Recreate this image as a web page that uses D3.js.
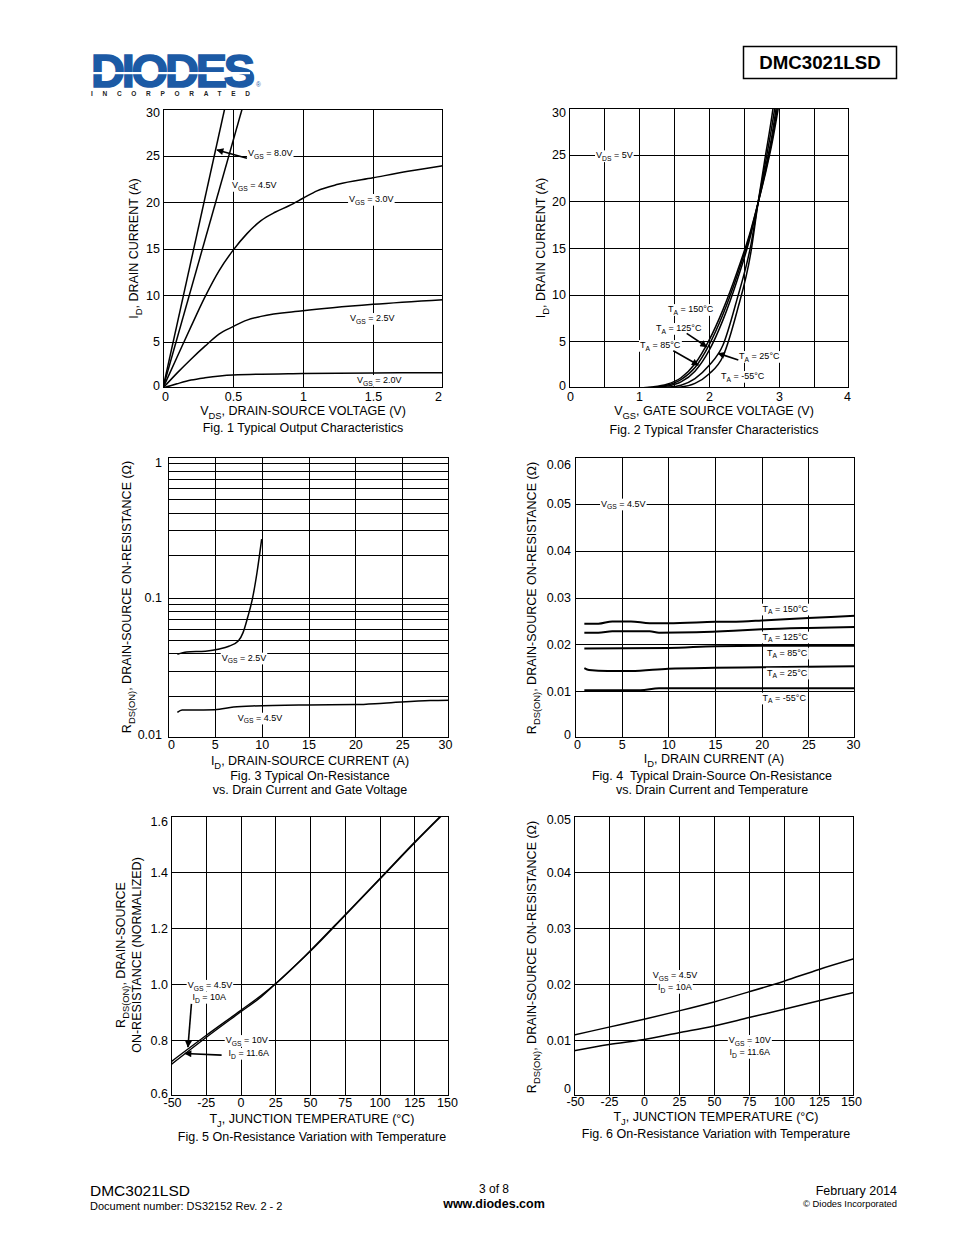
<!DOCTYPE html>
<html><head><meta charset="utf-8">
<script src="https://cdn.jsdelivr.net/npm/d3@7"></script>
<style>
body{margin:0;background:#fff}
svg{display:block}
text{font-family:"Liberation Sans",Arial,sans-serif;white-space:pre}
</style>
</head><body>
<svg id="page" width="954" height="1235"></svg>
<script>
// ================= DATA =================
// Fig.1 Typical Output Characteristics  [VDS (V), ID (A)]
const fig1XTicks = [0, 0.5, 1, 1.5, 2];
const fig1YTicks = [0, 5, 10, 15, 20, 25, 30];
const fig1_vgs80 = [[0,0],[0.44,30]];
const fig1_vgs45 = [[0,0],[0.565,30]];
const fig1_vgs30 = [[0,0],[0.1,3.3],[0.2,6.6],[0.3,9.8],[0.4,12.6],[0.5,14.8],[0.6,16.6],[0.7,18.0],[0.8,18.9],[0.9,19.6],[1.0,20.4],[1.1,21.2],[1.25,21.9],[1.5,22.6],[1.75,23.3],[2.0,23.9]];
const fig1_vgs25 = [[0,0],[0.1,1.6],[0.2,3.1],[0.3,4.5],[0.4,5.8],[0.5,6.6],[0.6,7.3],[0.7,7.7],[1.0,8.3],[1.5,9.0],[2.0,9.5]];
const fig1_vgs20 = [[0,0],[0.1,0.45],[0.2,0.85],[0.3,1.1],[0.5,1.4],[1.0,1.55],[1.5,1.62],[2.0,1.65]];

// Fig.2 Typical Transfer Characteristics [VGS (V), ID (A)]
const fig2XTicks = [0, 0.5, 1, 1.5, 2, 2.5, 3, 3.5, 4];
const fig2XLabels = [0, 1, 2, 3, 4];
const fig2YTicks = [0, 5, 10, 15, 20, 25, 30];
const fig2_t150 = [[1.0,0.03],[1.2,0.12],[1.4,0.4],[1.6,1.1],[1.8,2.6],[2.0,5.1],[2.2,8.4],[2.4,12.4],[2.6,17.0],[2.7,19.8],[2.8,22.8],[2.9,26.2],[2.99,30]];
const fig2_t125 = [[1.0,0.02],[1.2,0.08],[1.4,0.3],[1.6,0.9],[1.8,2.2],[2.0,4.6],[2.2,7.9],[2.4,12.0],[2.6,16.8],[2.7,19.8],[2.8,23.0],[2.9,26.6],[2.975,30]];
const fig2_t85  = [[1.0,0.01],[1.2,0.05],[1.4,0.2],[1.6,0.65],[1.8,1.8],[2.0,4.0],[2.2,7.3],[2.4,11.5],[2.6,16.5],[2.7,19.8],[2.8,23.3],[2.9,27.1],[2.96,30]];
const fig2_t25  = [[1.1,0],[1.2,0.02],[1.4,0.08],[1.6,0.3],[1.8,1.0],[2.0,2.4],[2.2,4.6],[2.4,9.5],[2.6,15.4],[2.7,19.8],[2.8,23.9],[2.9,28.1],[2.94,30]];
const fig2_tm55 = [[1.3,0],[1.4,0.03],[1.6,0.12],[1.8,0.5],[2.0,1.5],[2.2,3.4],[2.4,8.2],[2.6,14.6],[2.7,19.8],[2.8,24.6],[2.9,29.2],[2.915,30]];

// Fig.3 On-Resistance vs Drain Current and Gate Voltage [ID (A), RDS(ON) (ohm)]
const fig3XTicks = [0, 5, 10, 15, 20, 25, 30];
const fig3YLabels = [0.01, 0.1, 1];
const fig3_vgs25 = [[1,0.0395],[2,0.041],[4,0.0415],[5.5,0.043],[6.5,0.045],[7.5,0.049],[8,0.056],[8.5,0.072],[9,0.097],[9.5,0.15],[10,0.26]];
const fig3_vgs45 = [[1,0.0152],[1.5,0.0158],[5,0.0159],[7,0.0166],[9,0.0169],[15,0.0172],[20,0.0173],[23,0.0177],[28,0.0185],[30,0.0186]];

// Fig.4 RDS(ON) vs Drain Current and Temperature [ID (A), RDS(ON) (ohm)]
const fig4XTicks = [0, 5, 10, 15, 20, 25, 30];
const fig4YTicks = [0, 0.01, 0.02, 0.03, 0.04, 0.05, 0.06];
const fig4_t150 = [[1,0.0244],[2.5,0.0244],[4,0.0249],[6,0.0249],[8,0.0245],[10,0.0245],[15,0.0248],[18,0.0249],[20,0.0251],[25,0.0256],[30,0.0261]];
const fig4_t125 = [[1,0.0225],[2.5,0.0225],[4,0.0228],[8,0.0228],[9,0.0225],[13,0.0226],[17,0.0229],[20,0.0232],[25,0.0235],[30,0.0237]];
const fig4_t85  = [[1,0.0191],[10,0.0192],[15,0.0196],[20,0.0197],[30,0.0197]];
const fig4_t25  = [[1,0.0149],[1.5,0.0145],[3.5,0.0143],[6,0.0143],[10,0.0148],[15,0.015],[20,0.0151],[25,0.0152],[30,0.0153]];
const fig4_tm55 = [[1,0.0102],[7,0.0102],[9,0.0106],[20,0.0106],[30,0.0106]];

// Fig.5 Normalized RDS(ON) vs Junction Temperature [TJ (C), normalized]
const fig5XTicks = [-50, -25, 0, 25, 50, 75, 100, 125, 150];
const fig5YTicks = [0.6, 0.8, 1.0, 1.2, 1.4, 1.6];
const fig5_vgs45 = [[-50,0.722],[-25,0.815],[0,0.905],[15,0.96],[25,1.0],[50,1.118],[75,1.246],[100,1.375],[125,1.505],[144,1.6]];
const fig5_vgs10 = [[-50,0.712],[-25,0.808],[0,0.9],[15,0.955],[25,1.0],[50,1.116],[75,1.244],[100,1.373],[125,1.503],[144.5,1.6]];

// Fig.6 RDS(ON) vs Junction Temperature [TJ (C), ohm]
const fig6XTicks = [-50, -25, 0, 25, 50, 75, 100, 125, 150];
const fig6YTicks = [0, 0.01, 0.02, 0.03, 0.04, 0.05];
const fig6_vgs45 = [[-50,0.0109],[-25,0.0123],[0,0.0137],[25,0.0152],[50,0.0168],[75,0.0186],[100,0.0205],[125,0.0226],[150,0.0245]];
const fig6_vgs10 = [[-50,0.0081],[-25,0.0092],[0,0.0101],[25,0.0113],[50,0.0125],[75,0.014],[100,0.0155],[125,0.017],[150,0.0185]];

// ================= DRAWING =================
const svg = d3.select("#page");
const FONT = '"Liberation Sans", Arial, sans-serif';

svg.append("defs").append("marker")
  .attr("id","arr").attr("viewBox","0 0 10 10").attr("refX",9).attr("refY",5)
  .attr("markerWidth",9).attr("markerHeight",7).attr("markerUnits","userSpaceOnUse").attr("orient","auto")
  .append("path").attr("d","M0,0 L10,5 L0,10 Z").attr("fill","#000");

// rich text with subscripts: parts beginning with "_" are subscripts
function rich(g, x, y, parts, size, anchor, opts) {
  opts = opts || {};
  const t = g.append("text").attr("x", x).attr("y", y).attr("font-size", size)
    .attr("text-anchor", anchor || "start").attr("fill", "#000");
  if (opts.weight) t.attr("font-weight", opts.weight);
  let shifted = 0;
  parts.forEach(p => {
    const sub = p.startsWith("_");
    const s = sub ? p.slice(1) : p;
    const ts = t.append("tspan").text(s);
    if (sub) { ts.attr("font-size", size * 0.75).attr("dy", size * 0.3); shifted = size * 0.3; }
    else if (shifted) { ts.attr("dy", -shifted); shifted = 0; }
  });
  return t;
}
function bg(g, t, pad) {
  const b = t.node().getBBox();
  pad = pad == null ? 1 : pad;
  g.insert("rect", () => t.node()).attr("x", b.x - pad).attr("y", b.y).attr("width", b.width + 2 * pad)
    .attr("height", b.height).attr("fill", "#fff");
}

function chart(cfg) {
  const g = svg.append("g");
  const x = d3.scaleLinear().domain(cfg.xDomain).range([cfg.left, cfg.right]);
  const y = (cfg.log ? d3.scaleLog() : d3.scaleLinear()).domain(cfg.yDomain).range([cfg.bottom, cfg.top]);
  const px = v => Math.round(v) + 0.5;
  const clipId = "clip" + cfg.id;
  svg.select("defs").append("clipPath").attr("id", clipId).append("rect")
    .attr("x", cfg.left).attr("y", cfg.top).attr("width", cfg.right - cfg.left).attr("height", cfg.bottom - cfg.top);

  // grid
  const gx = cfg.xTicks.slice(1, -1);
  const gy = cfg.log ? y.ticks().filter(d => d > cfg.yDomain[0] * 1.0001 && d < cfg.yDomain[1] * 0.9999) : cfg.yTicks.slice(1, -1);
  g.append("g").selectAll("line").data(gx).join("line")
    .attr("x1", d => px(x(d))).attr("x2", d => px(x(d))).attr("y1", cfg.top).attr("y2", cfg.bottom)
    .attr("stroke", "#000").attr("stroke-width", 1);
  g.append("g").selectAll("line").data(gy).join("line")
    .attr("y1", d => px(y(d))).attr("y2", d => px(y(d))).attr("x1", cfg.left).attr("x2", cfg.right)
    .attr("stroke", "#000").attr("stroke-width", 1);

  // series
  const line = d3.line().x(d => x(d[0])).y(d => y(d[1])).curve(d3.curveMonotoneX);
  const sg = g.append("g").attr("clip-path", `url(#${clipId})`);
  cfg.series.forEach(s => {
    sg.append("path").datum(s).attr("d", line).attr("fill", "none").attr("stroke", "#000")
      .attr("stroke-width", cfg.lw || 1.5).attr("stroke-linejoin", "round");
  });

  // labels
  const lg = g.append("g");
  (cfg.labels || []).forEach(L => {
    const t = rich(lg, x(L.x), y(L.y), L.parts, 9, L.anchor || "start");
    bg(lg, t, 1);
  });
  (cfg.arrows || []).forEach(A => {
    lg.append("line").attr("x1", x(A[0][0])).attr("y1", y(A[0][1])).attr("x2", x(A[1][0])).attr("y2", y(A[1][1]))
      .attr("stroke", "#000").attr("stroke-width", 1.6).attr("marker-end", "url(#arr)");
  });

  // frame
  g.append("rect").attr("x", cfg.left + 0.5).attr("y", cfg.top + 0.5)
    .attr("width", cfg.right - cfg.left - 1).attr("height", cfg.bottom - cfg.top - 1)
    .attr("fill", "none").attr("stroke", "#000").attr("stroke-width", 1);

  // axes (labels only)
  const xa = g.append("g").attr("transform", `translate(0,${cfg.bottom})`)
    .call(d3.axisBottom(x).tickValues(cfg.xLabels || cfg.xTicks).tickSize(0).tickPadding(cfg.xPad).tickFormat(cfg.xFmt || (d => d)));
  xa.select(".domain").remove();
  xa.attr("font-size", 12.5).attr("font-family", FONT);
  xa.selectAll("text").attr("fill", "#000");
  const xt = xa.selectAll(".tick text").nodes();
  d3.select(xt[0]).attr("dx", cfg.xEnd[0]);
  d3.select(xt[xt.length - 1]).attr("dx", cfg.xEnd[1]);

  const ya = g.append("g").attr("transform", `translate(${cfg.left},0)`)
    .call(d3.axisLeft(y).tickValues(cfg.yLabels || cfg.yTicks).tickSize(0).tickPadding(cfg.yPad).tickFormat(cfg.yFmt || (d => d)));
  ya.select(".domain").remove();
  ya.attr("font-size", 12.5).attr("font-family", FONT);
  ya.selectAll("text").attr("fill", "#000");
  const yt = ya.selectAll(".tick text").nodes();
  d3.select(yt[0]).attr("y", cfg.yEnd[0]);
  d3.select(yt[yt.length - 1]).attr("y", cfg.yEnd[1]);

  // titles
  const cx = (cfg.left + cfg.right) / 2;
  rich(g, cfg.xTitleX || cx, cfg.xTitleY, cfg.xTitle, 12.5, "middle");
  cfg.caption.forEach((c, i) => g.append("text").attr("x", cfg.capX || cx).attr("y", cfg.capY + i * 14)
    .attr("text-anchor", "middle").attr("font-size", 12.5).attr("fill", "#000").text(c));
  const cy = (cfg.top + cfg.bottom) / 2;
  cfg.yTitle.forEach((parts, i) => {
    const gg = g.append("g").attr("transform", `translate(${cfg.yTitleX[i]},${cfg.yTitleY || cy}) rotate(-90)`);
    rich(gg, 0, 0, parts, 12.5, "middle");
  });
  return {x, y};
}

const fmt2 = d => d === 0 ? "0" : d3.format(".2f")(d);

// Fig 1
chart({id:1, left:163, right:443, top:109, bottom:388, xDomain:[0,2], yDomain:[0,30],
  xTicks:fig1XTicks, yTicks:fig1YTicks, xPad:4.5, yPad:3, xEnd:[2,-5], yEnd:[-3,3],
  series:[fig1_vgs80, fig1_vgs45, fig1_vgs30, fig1_vgs25, fig1_vgs20],
  labels:[
    {x:0.607, y:24.95, parts:["V","_GS"," = 8.0V"]},
    {x:0.493, y:21.5, parts:["V","_GS"," = 4.5V"]},
    {x:1.329, y:20.0, parts:["V","_GS"," = 3.0V"]},
    {x:1.336, y:7.2, parts:["V","_GS"," = 2.5V"]},
    {x:1.386, y:0.54, parts:["V","_GS"," = 2.0V"]}],
  arrows:[[[0.6,24.7],[0.386,25.6]]],
  xTitle:["V","_DS",", DRAIN-SOURCE VOLTAGE (V)"], xTitleY:415,
  caption:["Fig. 1 Typical Output Characteristics"], capY:432,
  yTitle:[["I","_D",", DRAIN CURRENT (A)"]], yTitleX:[138]});

// Fig 2
chart({id:2, left:569, right:849, top:108, bottom:388, xDomain:[0,4], yDomain:[0,30],
  xTicks:fig2XTicks, xLabels:fig2XLabels, yTicks:fig2YTicks, xPad:4.5, yPad:3, xEnd:[1,-2], yEnd:[-3,4],
  series:[fig2_t150, fig2_t125, fig2_t85, fig2_t25, fig2_tm55],
  labels:[
    {x:0.386, y:24.6, parts:["V","_DS"," = 5V"]},
    {x:1.414, y:8.13, parts:["T","_A"," = 150°C"]},
    {x:1.243, y:6.1, parts:["T","_A"," = 125°C"]},
    {x:1.014, y:4.28, parts:["T","_A"," = 85°C"]},
    {x:2.43, y:3.1, parts:["T","_A"," = 25°C"]},
    {x:2.17, y:0.96, parts:["T","_A"," = -55°C"]}],
  arrows:[[[1.681,5.85],[1.967,4.42]],[[1.49,3.99],[1.847,2.46]],[[2.419,2.99],[2.133,3.71]]],
  xTitle:["V","_GS",", GATE SOURCE VOLTAGE (V)"], xTitleY:415, xTitleX:714,
  caption:["Fig. 2 Typical Transfer Characteristics"], capY:434, capX:714,
  yTitle:[["I","_D",", DRAIN CURRENT (A)"]], yTitleX:[545]});

// Fig 3
chart({id:3, left:168, right:449, top:457, bottom:738, xDomain:[0,30], yDomain:[0.01,1], log:true,
  xTicks:fig3XTicks, yLabels:fig3YLabels, yFmt:d => String(d), xPad:2.5, yPad:6, xEnd:[3,-4], yEnd:[-4,5],
  series:[fig3_vgs25, fig3_vgs45],
  labels:[
    {x:5.73, y:0.0355, parts:["V","_GS"," = 2.5V"]},
    {x:7.44, y:0.01327, parts:["V","_GS"," = 4.5V"]}],
  xTitle:["I","_D",", DRAIN-SOURCE CURRENT (A)"], xTitleY:765, xTitleX:310,
  caption:["Fig. 3 Typical On-Resistance","vs. Drain Current and Gate Voltage"], capY:780, capX:310,
  yTitle:[["R","_DS(ON)",", DRAIN-SOURCE ON-RESISTANCE (Ω)"]], yTitleX:[131], yTitleY:597});

// Fig 4
chart({id:4, left:575, right:855, top:457, bottom:738, xDomain:[0,30], yDomain:[0,0.06],
  xTicks:fig4XTicks, yTicks:fig4YTicks, yFmt:fmt2, xPad:2.5, yPad:4, xEnd:[2,-2], yEnd:[-4,7],
  series:[fig4_t150, fig4_t125, fig4_t85, fig4_t25, fig4_tm55], lw:2,
  labels:[
    {x:2.79, y:0.0494, parts:["V","_GS"," = 4.5V"]},
    {x:20.1, y:0.02697, parts:["T","_A"," = 150°C"]},
    {x:20.1, y:0.0210, parts:["T","_A"," = 125°C"]},
    {x:20.57, y:0.01757, parts:["T","_A"," = 85°C"]},
    {x:20.57, y:0.0133, parts:["T","_A"," = 25°C"]},
    {x:20.1, y:0.00797, parts:["T","_A"," = -55°C"]}],
  xTitle:["I","_D",", DRAIN CURRENT (A)"], xTitleY:763, xTitleX:714,
  caption:["Fig. 4  Typical Drain-Source On-Resistance","vs. Drain Current and Temperature"], capY:780, capX:712,
  yTitle:[["R","_DS(ON)",", DRAIN-SOURCE ON-RESISTANCE (Ω)"]], yTitleX:[536], yTitleY:598});

// Fig 5
chart({id:5, left:171, right:449, top:816, bottom:1096, xDomain:[-50,150], yDomain:[0.6,1.6],
  xTicks:fig5XTicks, yTicks:fig5YTicks, yFmt:d3.format(".1f"), xPad:2.5, yPad:3, xEnd:[1,-2], yEnd:[-3,5],
  series:[fig5_vgs45, fig5_vgs10], lw:1.4,
  labels:[
    {x:-22, y:0.986, parts:["V","_GS"," = 4.5V"], anchor:"middle"},
    {x:-22.5, y:0.943, parts:["I","_D"," = 10A"], anchor:"middle"},
    {x:4.5, y:0.789, parts:["V","_GS"," = 10V"], anchor:"middle"},
    {x:6, y:0.743, parts:["I","_D"," = 11.6A"], anchor:"middle"}],
  arrows:[[[-35.3,0.929],[-37.8,0.775]],[[-13.6,0.746],[-39.9,0.752]]],
  xTitle:["T","_J",", JUNCTION TEMPERATURE (°C)"], xTitleY:1123, xTitleX:312,
  caption:["Fig. 5 On-Resistance Variation with Temperature"], capY:1141, capX:312,
  yTitle:[["R","_DS(ON)",", DRAIN-SOURCE"],["ON-RESISTANCE (NORMALIZED)"]], yTitleX:[125,141], yTitleY:955});

// Fig 6
chart({id:6, left:574, right:854, top:816, bottom:1096, xDomain:[-50,150], yDomain:[0,0.05],
  xTicks:fig6XTicks, yTicks:fig6YTicks, yFmt:fmt2, xPad:1.5, yPad:3, xEnd:[1,-3], yEnd:[-8,3],
  series:[fig6_vgs45, fig6_vgs10],
  labels:[
    {x:22.1, y:0.02107, parts:["V","_GS"," = 4.5V"], anchor:"middle"},
    {x:22.1, y:0.01893, parts:["I","_D"," = 10A"], anchor:"middle"},
    {x:75.6, y:0.00946, parts:["V","_GS"," = 10V"], anchor:"middle"},
    {x:75.6, y:0.00732, parts:["I","_D"," = 11.6A"], anchor:"middle"}],
  xTitle:["T","_J",", JUNCTION TEMPERATURE (°C)"], xTitleY:1121, xTitleX:716,
  caption:["Fig. 6 On-Resistance Variation with Temperature"], capY:1138, capX:716,
  yTitle:[["R","_DS(ON)",", DRAIN-SOURCE ON-RESISTANCE (Ω)"]], yTitleX:[536], yTitleY:957});

// ================= HEADER / FOOTER =================
const hdr = svg.append("g");
// logo: one text element with positioned tspans
const logo = hdr.append("text").attr("font-weight", "bold");
logo.append("tspan").attr("x", 91).attr("y", 87).attr("font-size", 47).attr("letter-spacing", -3.2)
  .attr("fill", "#1c5aa5").attr("stroke", "#1c5aa5").attr("stroke-width", 1.6).text("DIODES");
logo.append("tspan").attr("x", 256).attr("y", 87).attr("font-size", 6.5).attr("font-weight", "normal")
  .attr("fill", "#1c5aa5").text("®");
logo.append("tspan").attr("x", 91).attr("y", 96).attr("font-size", 6.5).attr("letter-spacing", 9.7)
  .attr("fill", "#222").text("INCORPORATED");
hdr.append("rect").attr("x", 92).attr("y", 72).attr("width", 158).attr("height", 2.2).attr("fill", "#fff");

hdr.append("rect").attr("x", 743.5).attr("y", 46.5).attr("width", 153).attr("height", 32)
  .attr("fill", "none").attr("stroke", "#000").attr("stroke-width", 1.5);
hdr.append("text").attr("x", 820).attr("y", 69).attr("text-anchor", "middle").attr("font-size", 18.7)
  .attr("font-weight", "bold").attr("fill", "#000").text("DMC3021LSD");

const ftr = svg.append("g").attr("fill", "#000");
ftr.append("text").attr("x", 90).attr("y", 1196).attr("font-size", 15.5).text("DMC3021LSD");
ftr.append("text").attr("x", 90).attr("y", 1210).attr("font-size", 11).text("Document number: DS32152 Rev. 2 - 2");
ftr.append("text").attr("x", 494).attr("y", 1193).attr("font-size", 12).attr("text-anchor", "middle").text("3 of 8");
ftr.append("text").attr("x", 494).attr("y", 1208).attr("font-size", 12.5).attr("font-weight", "bold").attr("text-anchor", "middle").text("www.diodes.com");
ftr.append("text").attr("x", 897).attr("y", 1195).attr("font-size", 12.5).attr("text-anchor", "end").text("February 2014");
ftr.append("text").attr("x", 897).attr("y", 1207).attr("font-size", 9.4).attr("text-anchor", "end").text("© Diodes Incorporated");
</script>
</body></html>
